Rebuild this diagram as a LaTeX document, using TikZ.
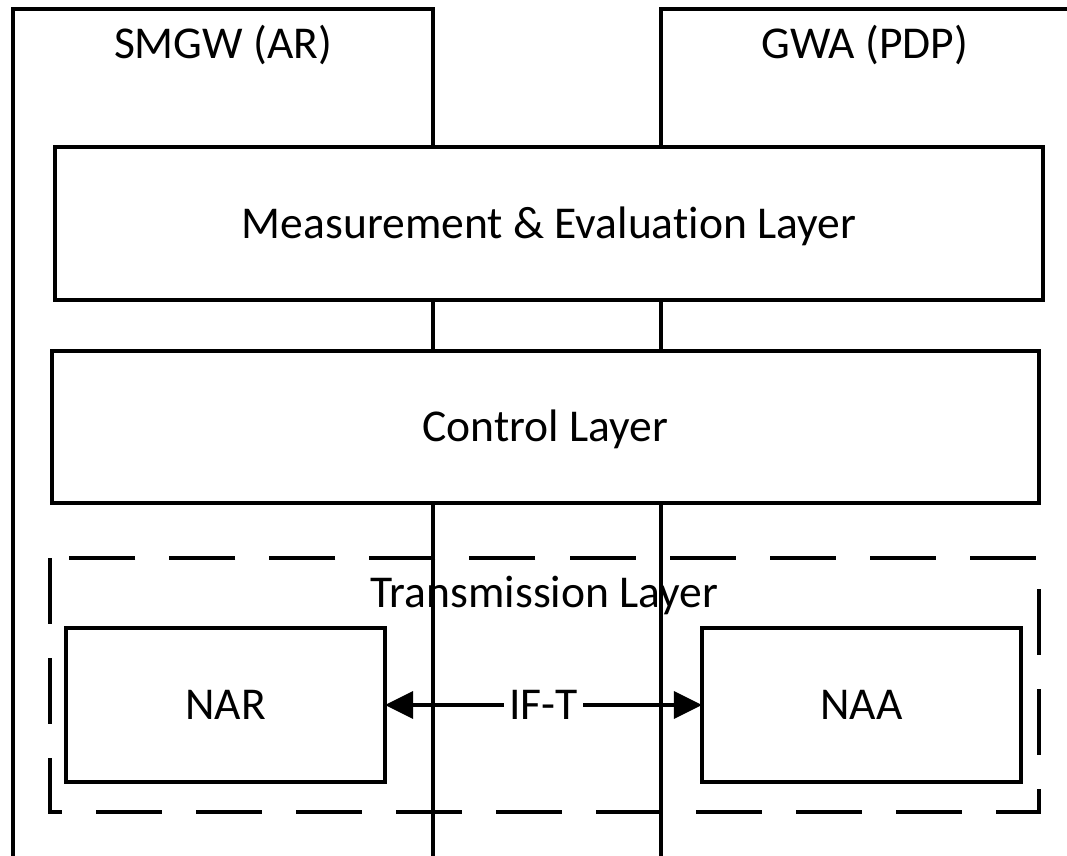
\documentclass[tikz,border=0pt]{standalone}
\usepackage{fontspec}
\setmainfont{Carlito}[Ligatures=NoCommon]
\usetikzlibrary{arrows.meta}
\begin{document}
\begin{tikzpicture}[x=0.025cm,y=-0.025cm,
	every node/.style={font=\fontsize{32.4}{38}\selectfont, inner sep=0pt, outer sep=0pt, text height=0.73cm, text depth=0pt},
	layer/.style={draw, line width=2.5pt, fill=white, minimum width=24.7cm, minimum height=3.8cm},
	nbox/.style={draw, line width=2.4pt, fill=white, minimum width=7.975cm, minimum height=3.85cm},
	column/.style={line width=2.2pt},
	dashframe/.style={line width=2.8pt, dash pattern=on 1.65cm off 0.85cm},
	link/.style={{Triangle[length=0.7cm,width=0.675cm]}-{Triangle[length=0.7cm,width=0.675cm]}, line width=2.2pt}]
\useasboundingbox (0,0) rectangle (1067,856);
\clip (0,0) rectangle (1067,856);

% columns
\draw[column] (13,880) |- (433,9) -- (433,880);
\draw[column] (661,880) |- (1069,9) -- (1069,880);
\node (smgw) at (223,43.5) {SMGW (AR)};
\node (gwa) at (865,43.5) {GWA (PDP)};

% layers
\node[layer, minimum height=3.825cm] (meas) at (549,223.5) {Measurement \& Evaluation Layer};
\node[layer, minimum width=24.675cm] (ctrl) at (545.5,427) {Control Layer};

\draw[dashframe] (50,558) rectangle (1039,812);
\node (trans) at (544.5,593) {Transmission Layer};
\node[nbox] (nar) at (225.5,705) {NAR};
\node[nbox] (naa) at (861.5,705) {NAA};
\draw[link] (nar) -- node[fill=white, inner xsep=3.5pt] (ift) {IF-T} (naa);
\end{tikzpicture}
\end{document}
